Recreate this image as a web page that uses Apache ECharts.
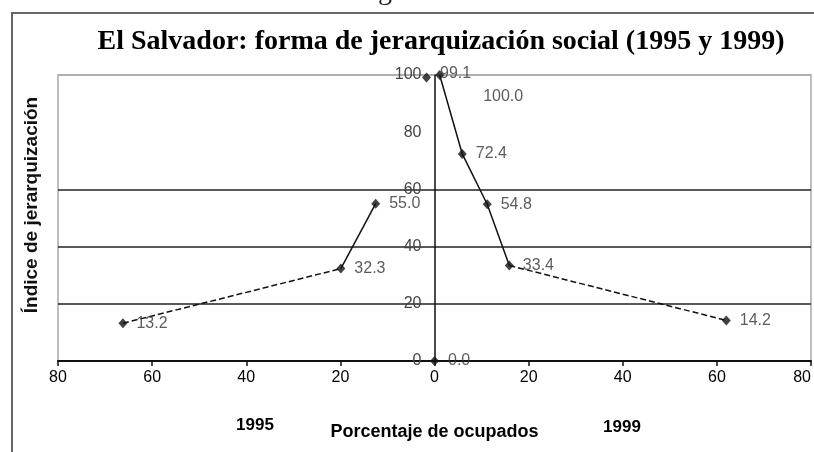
<!DOCTYPE html>
<html>
<head>
<meta charset="utf-8">
<script src="https://cdn.jsdelivr.net/npm/echarts@6/dist/echarts.min.js"></script>
<style>
html,body{margin:0;padding:0;background:#fff;}
#c{width:814px;height:452px;}
</style>
</head>
<body>
<div id="c"></div>
<script>
// ---- data ----
const title = 'El Salvador: forma de jerarquización social (1995 y 1999)';
const yAxisTitle = 'Índice de jerarquización';
const xAxisTitle = 'Porcentaje de ocupados';
const sideLabels = ['1995', '1999'];
// 1995: percentage of employed (plotted to the left), index value
const pct1995 = [66.2, 19.9, 12.5, 1.7, 0];
const idx1995 = [13.2, 32.3, 55.0, 99.1, 0.0];
// 1999: percentage of employed (plotted to the right), index value
const pct1999 = [1.1, 5.9, 11.2, 15.9, 62.0];
const idx1999 = [100.0, 72.4, 54.8, 33.4, 14.2];
const xTickMin = -80, xTickMax = 80, xTickStep = 20;
const yTickMin = 0, yTickMax = 100, yTickStep = 20;

// ---- build ----
const pts1995 = pct1995.map((p, i) => [-p, idx1995[i]]);
const pts1999 = pct1999.map((p, i) => [p, idx1999[i]]);

const gridLeft = 58, gridRight = 3, W = 814;
const plotW = W - gridLeft - gridRight;
const zeroOffset = -plotW * (0 - xTickMin) / (xTickMax - xTickMin);

const lineBase = { type: 'line', symbol: 'none', silent: true, z: 2, animation: false };
const solid = { color: '#111', width: 1.5, type: 'solid' };
const dashed = { color: '#111', width: 1.5, type: [6, 3] };

const labelBase = {
  show: true, position: 'right', distance: 9,
  fontFamily: 'Liberation Sans, Arial, sans-serif', fontSize: 16, color: '#333',
  formatter: p => p.value[1].toFixed(1)
};

const scatter95 = pts1995.map((v, i) => {
  const o = { value: v };
  if (i === 3) o.label = { offset: [0, -4] };
  return o;
});
const scatter99 = pts1999.map((v, i) => {
  const o = { value: v };
  if (i === 0) o.label = { offset: [30, 22] };
  return o;
});

const sans = 'Liberation Sans, Arial, sans-serif';
const chart = echarts.init(document.getElementById('c'), null, { renderer: 'canvas' });
chart.setOption({
  animation: false,
  backgroundColor: '#fff',
  title: {
    text: title, left: 436, top: 23, textAlign: 'center',
    textStyle: { fontFamily: 'Liberation Serif, Times New Roman, serif', fontWeight: 'bold', fontSize: 28, color: '#000' }
  },
  grid: { left: gridLeft, right: gridRight, top: 75, bottom: 91, show: true, borderColor: '#aaa', borderWidth: 1.5 },
  xAxis: {
    type: 'value', min: xTickMin, max: xTickMax, interval: xTickStep,
    name: xAxisTitle, nameLocation: 'middle', nameGap: 62,
    nameTextStyle: { fontFamily: sans, fontWeight: 'bold', fontSize: 18, color: '#000' },
    axisLine: { show: true, onZero: false, lineStyle: { color: '#111', width: 2 } },
    axisTick: { show: true, length: 5, lineStyle: { color: '#111', width: 1.5 } },
    axisLabel: {
      formatter: v => String(Math.abs(v)), fontFamily: sans,
      fontSize: 16, color: '#000', margin: 9, alignMaxLabel: 'right'
    },
    splitLine: { show: false }
  },
  yAxis: {
    type: 'value', min: yTickMin, max: yTickMax, interval: yTickStep,
    position: 'left', offset: zeroOffset,
    axisLine: { show: true, onZero: false, lineStyle: { color: '#111', width: 1.5 } },
    axisTick: { show: false },
    axisLabel: { fontFamily: sans, fontSize: 16, color: '#444', margin: 13 },
    splitLine: { show: true, lineStyle: { color: ['rgba(0,0,0,0)', '#222', '#222', '#222', 'rgba(0,0,0,0)', '#aaa'], width: 1.5 } }
  },
  series: [
    Object.assign({}, lineBase, { data: pts1995.slice(0, 2), lineStyle: dashed }),
    Object.assign({}, lineBase, { data: pts1995.slice(1, 3), lineStyle: solid }),
    Object.assign({}, lineBase, { data: pts1999.slice(0, 4), lineStyle: solid }),
    Object.assign({}, lineBase, { data: pts1999.slice(3, 5), lineStyle: dashed }),
    { type: 'scatter', symbol: 'diamond', symbolSize: [9, 10], itemStyle: { color: '#111' }, z: 3,
      label: labelBase, data: scatter95 },
    { type: 'scatter', symbol: 'diamond', symbolSize: [9, 10], itemStyle: { color: '#111' }, z: 3,
      label: labelBase, data: scatter99 }
  ],
  graphic: [
    { type: 'rect', shape: { x: 12, y: 13, width: 830, height: 470 }, silent: true,
      style: { fill: 'none', stroke: '#666', lineWidth: 2 } },
    { type: 'text', x: 385, y: -8, silent: true,
      style: { text: 'g', fontFamily: 'Liberation Serif, serif', fontSize: 28, fill: '#222', textAlign: 'center', textVerticalAlign: 'middle' } },
    { type: 'text', x: 32, y: 205, rotation: Math.PI / 2, silent: true,
      style: { text: yAxisTitle, fontFamily: sans, fontWeight: 'bold', fontSize: 19,
        fill: '#111', textAlign: 'center', textVerticalAlign: 'middle' } },
    { type: 'text', x: 255, y: 425, silent: true,
      style: { text: sideLabels[0], fontFamily: sans, fontWeight: 'bold', fontSize: 17,
        fill: '#000', textAlign: 'center', textVerticalAlign: 'middle' } },
    { type: 'text', x: 622, y: 427, silent: true,
      style: { text: sideLabels[1], fontFamily: sans, fontWeight: 'bold', fontSize: 17,
        fill: '#000', textAlign: 'center', textVerticalAlign: 'middle' } }
  ]
});
</script>
</body>
</html>
